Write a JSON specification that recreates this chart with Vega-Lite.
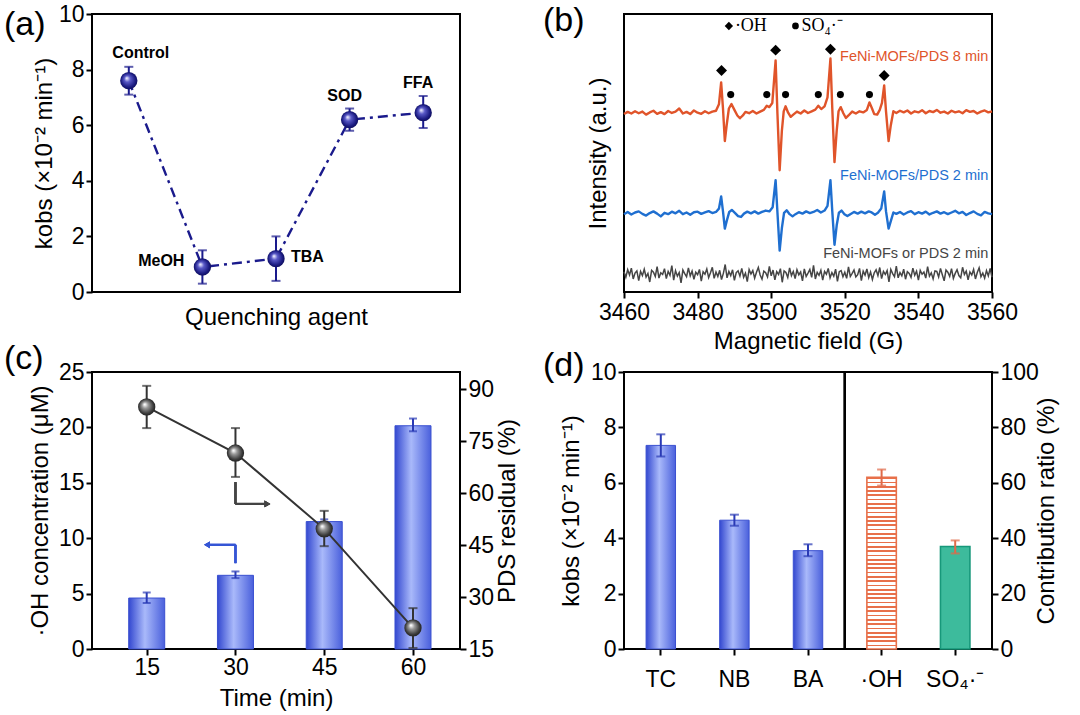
{
"$schema": "https://vega.github.io/schema/vega-lite/v6.json",
"background": "white",
"padding": {"left": 3, "top": 2, "right": 0, "bottom": 0},
"columns": 2,
"spacing": {"row": 80, "column": 164},
"bounds": "flush",
"datasets": {
"a": [
{"agent":"Control","k":7.6,"lo":7.1,"hi":8.1},
{"agent":"MeOH","k":0.9,"lo":0.3,"hi":1.5},
{"agent":"TBA","k":1.2,"lo":0.4,"hi":2.0},
{"agent":"SOD","k":6.2,"lo":5.8,"hi":6.6},
{"agent":"FFA","k":6.45,"lo":5.9,"hi":7.05}
],
"esr": [
{"B":3460,"I":64.0,"run":"8min"},{"B":3461,"I":64.8,"run":"8min"},{"B":3462,"I":64.2,"run":"8min"},{"B":3463,"I":65.0,"run":"8min"},{"B":3464,"I":64.3,"run":"8min"},{"B":3465,"I":64.9,"run":"8min"},{"B":3466,"I":63.8,"run":"8min"},{"B":3467,"I":64.6,"run":"8min"},{"B":3468,"I":65.2,"run":"8min"},{"B":3469,"I":64.1,"run":"8min"},
{"B":3470,"I":64.7,"run":"8min"},{"B":3471,"I":64.0,"run":"8min"},{"B":3472,"I":65.1,"run":"8min"},{"B":3473,"I":64.4,"run":"8min"},{"B":3474,"I":64.9,"run":"8min"},{"B":3475,"I":66.0,"run":"8min"},{"B":3476,"I":64.2,"run":"8min"},{"B":3477,"I":64.8,"run":"8min"},{"B":3478,"I":64.0,"run":"8min"},{"B":3479,"I":65.3,"run":"8min"},
{"B":3480,"I":64.5,"run":"8min"},{"B":3481,"I":64.1,"run":"8min"},{"B":3482,"I":65.0,"run":"8min"},{"B":3483,"I":64.3,"run":"8min"},{"B":3484,"I":64.9,"run":"8min"},{"B":3485,"I":65.2,"run":"8min"},{"B":3485.8,"I":67.5,"run":"8min"},{"B":3486.4,"I":75.4,"run":"8min"},{"B":3486.9,"I":66,"run":"8min"},{"B":3487.4,"I":54.3,"run":"8min"},
{"B":3487.9,"I":60,"run":"8min"},{"B":3488.5,"I":66,"run":"8min"},{"B":3489.2,"I":67.6,"run":"8min"},{"B":3490,"I":65.5,"run":"8min"},{"B":3490.8,"I":63.5,"run":"8min"},{"B":3491.5,"I":62.5,"run":"8min"},{"B":3492.3,"I":63.5,"run":"8min"},{"B":3493,"I":64.8,"run":"8min"},{"B":3494,"I":64.3,"run":"8min"},{"B":3495,"I":65.1,"run":"8min"},
{"B":3496,"I":64.2,"run":"8min"},{"B":3497,"I":64.9,"run":"8min"},{"B":3498,"I":65.5,"run":"8min"},{"B":3498.8,"I":67.0,"run":"8min"},{"B":3499.5,"I":66.5,"run":"8min"},{"B":3500.3,"I":68,"run":"8min"},{"B":3501.2,"I":83.3,"run":"8min"},{"B":3501.7,"I":64,"run":"8min"},{"B":3502.3,"I":43.8,"run":"8min"},{"B":3502.9,"I":58,"run":"8min"},
{"B":3503.4,"I":65,"run":"8min"},{"B":3503.9,"I":66.8,"run":"8min"},{"B":3504.6,"I":64.5,"run":"8min"},{"B":3505.3,"I":63.0,"run":"8min"},{"B":3506,"I":63.8,"run":"8min"},{"B":3507,"I":64.9,"run":"8min"},{"B":3508,"I":64.2,"run":"8min"},{"B":3509,"I":65.3,"run":"8min"},{"B":3510,"I":64.4,"run":"8min"},{"B":3511,"I":65.0,"run":"8min"},
{"B":3512,"I":65.6,"run":"8min"},{"B":3512.8,"I":67.0,"run":"8min"},{"B":3513.6,"I":65.8,"run":"8min"},{"B":3514.5,"I":66.8,"run":"8min"},{"B":3515.3,"I":70,"run":"8min"},{"B":3516.1,"I":84.0,"run":"8min"},{"B":3516.6,"I":66,"run":"8min"},{"B":3517.2,"I":46.7,"run":"8min"},{"B":3517.8,"I":58,"run":"8min"},{"B":3518.3,"I":65,"run":"8min"},
{"B":3518.9,"I":66.5,"run":"8min"},{"B":3519.6,"I":64.3,"run":"8min"},{"B":3520.3,"I":62.6,"run":"8min"},{"B":3521,"I":63.5,"run":"8min"},{"B":3522,"I":64.9,"run":"8min"},{"B":3523,"I":64.2,"run":"8min"},{"B":3524,"I":65.0,"run":"8min"},{"B":3525,"I":64.6,"run":"8min"},{"B":3526,"I":65.5,"run":"8min"},{"B":3526.7,"I":68.2,"run":"8min"},
{"B":3527.4,"I":66,"run":"8min"},{"B":3528,"I":64,"run":"8min"},{"B":3528.8,"I":63.8,"run":"8min"},{"B":3529.5,"I":65.5,"run":"8min"},{"B":3530.1,"I":68,"run":"8min"},{"B":3530.7,"I":74.3,"run":"8min"},{"B":3531.2,"I":65,"run":"8min"},{"B":3531.9,"I":54.3,"run":"8min"},{"B":3532.5,"I":60,"run":"8min"},{"B":3533.2,"I":65,"run":"8min"},
{"B":3534,"I":64.4,"run":"8min"},{"B":3535,"I":65.2,"run":"8min"},{"B":3536,"I":64.6,"run":"8min"},{"B":3537,"I":65.3,"run":"8min"},{"B":3538,"I":64.2,"run":"8min"},{"B":3539,"I":65.0,"run":"8min"},{"B":3540,"I":64.6,"run":"8min"},{"B":3541,"I":65.4,"run":"8min"},{"B":3542,"I":64.3,"run":"8min"},{"B":3543,"I":65.1,"run":"8min"},
{"B":3544,"I":64.7,"run":"8min"},{"B":3545,"I":65.5,"run":"8min"},{"B":3546,"I":64.5,"run":"8min"},{"B":3547,"I":64.9,"run":"8min"},{"B":3548,"I":64.2,"run":"8min"},{"B":3549,"I":65.2,"run":"8min"},{"B":3550,"I":64.6,"run":"8min"},{"B":3551,"I":65.0,"run":"8min"},{"B":3552,"I":64.3,"run":"8min"},{"B":3553,"I":65.4,"run":"8min"},
{"B":3554,"I":64.8,"run":"8min"},{"B":3555,"I":65.1,"run":"8min"},{"B":3556,"I":64.2,"run":"8min"},{"B":3557,"I":64.9,"run":"8min"},{"B":3558,"I":65.3,"run":"8min"},{"B":3559,"I":64.6,"run":"8min"},{"B":3560,"I":65.0,"run":"8min"},
{"B":3460,"I":28.0,"run":"2min"},{"B":3461,"I":28.8,"run":"2min"},{"B":3462,"I":27.9,"run":"2min"},{"B":3463,"I":28.6,"run":"2min"},{"B":3464,"I":29.0,"run":"2min"},{"B":3465,"I":28.1,"run":"2min"},{"B":3466,"I":27.5,"run":"2min"},{"B":3467,"I":28.4,"run":"2min"},{"B":3468,"I":29.0,"run":"2min"},{"B":3469,"I":28.2,"run":"2min"},
{"B":3470,"I":27.2,"run":"2min"},{"B":3471,"I":28.5,"run":"2min"},{"B":3472,"I":28.0,"run":"2min"},{"B":3473,"I":28.9,"run":"2min"},{"B":3474,"I":28.3,"run":"2min"},{"B":3475,"I":29.2,"run":"2min"},{"B":3476,"I":28.0,"run":"2min"},{"B":3477,"I":28.6,"run":"2min"},{"B":3478,"I":27.8,"run":"2min"},{"B":3479,"I":28.7,"run":"2min"},
{"B":3480,"I":28.9,"run":"2min"},{"B":3481,"I":28.1,"run":"2min"},{"B":3482,"I":28.6,"run":"2min"},{"B":3483,"I":29.1,"run":"2min"},{"B":3484,"I":28.4,"run":"2min"},{"B":3485,"I":28.8,"run":"2min"},{"B":3485.8,"I":30.0,"run":"2min"},{"B":3486.4,"I":34.4,"run":"2min"},{"B":3486.9,"I":29,"run":"2min"},{"B":3487.4,"I":22.8,"run":"2min"},
{"B":3487.9,"I":25.5,"run":"2min"},{"B":3488.6,"I":28.8,"run":"2min"},{"B":3489.3,"I":29.5,"run":"2min"},{"B":3490.2,"I":28.4,"run":"2min"},{"B":3491,"I":27.3,"run":"2min"},{"B":3491.8,"I":27.0,"run":"2min"},{"B":3492.6,"I":28.2,"run":"2min"},{"B":3493.5,"I":28.9,"run":"2min"},{"B":3494.5,"I":28.3,"run":"2min"},{"B":3495.5,"I":29.0,"run":"2min"},
{"B":3496.5,"I":28.2,"run":"2min"},{"B":3497.5,"I":28.8,"run":"2min"},{"B":3498.5,"I":29.3,"run":"2min"},{"B":3499.5,"I":29.0,"run":"2min"},{"B":3500.4,"I":30.5,"run":"2min"},{"B":3501.2,"I":40.2,"run":"2min"},{"B":3501.7,"I":28.5,"run":"2min"},{"B":3502.3,"I":14.9,"run":"2min"},{"B":3502.9,"I":23,"run":"2min"},{"B":3503.5,"I":28.5,"run":"2min"},
{"B":3504.2,"I":29.4,"run":"2min"},{"B":3505,"I":28.0,"run":"2min"},{"B":3505.8,"I":27.2,"run":"2min"},{"B":3506.6,"I":28.0,"run":"2min"},{"B":3507.5,"I":28.7,"run":"2min"},{"B":3508.5,"I":28.2,"run":"2min"},{"B":3509.5,"I":29.0,"run":"2min"},{"B":3510.5,"I":28.4,"run":"2min"},{"B":3511.5,"I":28.8,"run":"2min"},{"B":3512.5,"I":29.5,"run":"2min"},
{"B":3513.5,"I":28.6,"run":"2min"},{"B":3514.5,"I":29.3,"run":"2min"},{"B":3515.3,"I":31,"run":"2min"},{"B":3516.1,"I":40.2,"run":"2min"},{"B":3516.6,"I":29,"run":"2min"},{"B":3517.2,"I":17.0,"run":"2min"},{"B":3517.8,"I":24,"run":"2min"},{"B":3518.4,"I":28.5,"run":"2min"},{"B":3519.1,"I":29.3,"run":"2min"},{"B":3519.9,"I":28.0,"run":"2min"},
{"B":3520.7,"I":27.3,"run":"2min"},{"B":3521.5,"I":28.0,"run":"2min"},{"B":3522.5,"I":28.8,"run":"2min"},{"B":3523.5,"I":28.2,"run":"2min"},{"B":3524.5,"I":28.9,"run":"2min"},{"B":3525.5,"I":28.3,"run":"2min"},{"B":3526.5,"I":29.0,"run":"2min"},{"B":3527.3,"I":28.6,"run":"2min"},{"B":3528.2,"I":27.8,"run":"2min"},{"B":3529,"I":28.5,"run":"2min"},
{"B":3529.9,"I":30,"run":"2min"},{"B":3530.7,"I":36.2,"run":"2min"},{"B":3531.2,"I":29,"run":"2min"},{"B":3531.9,"I":22.8,"run":"2min"},{"B":3532.5,"I":25.5,"run":"2min"},{"B":3533.2,"I":28.6,"run":"2min"},{"B":3534,"I":28.1,"run":"2min"},{"B":3535,"I":28.8,"run":"2min"},{"B":3536,"I":27.9,"run":"2min"},{"B":3537,"I":28.6,"run":"2min"},
{"B":3538,"I":29.1,"run":"2min"},{"B":3539,"I":28.0,"run":"2min"},{"B":3540,"I":28.7,"run":"2min"},{"B":3541,"I":28.2,"run":"2min"},{"B":3542,"I":28.9,"run":"2min"},{"B":3543,"I":27.9,"run":"2min"},{"B":3544,"I":28.5,"run":"2min"},{"B":3545,"I":29.0,"run":"2min"},{"B":3546,"I":28.2,"run":"2min"},{"B":3547,"I":28.7,"run":"2min"},
{"B":3548,"I":28.0,"run":"2min"},{"B":3549,"I":28.6,"run":"2min"},{"B":3550,"I":29.2,"run":"2min"},{"B":3551,"I":28.3,"run":"2min"},{"B":3552,"I":28.8,"run":"2min"},{"B":3553,"I":27.7,"run":"2min"},{"B":3554,"I":28.4,"run":"2min"},{"B":3555,"I":29.0,"run":"2min"},{"B":3556,"I":28.1,"run":"2min"},{"B":3557,"I":27.6,"run":"2min"},
{"B":3558,"I":28.8,"run":"2min"},{"B":3559,"I":28.3,"run":"2min"},{"B":3560,"I":28.0,"run":"2min"},
{"B":3460,"I":7.3,"run":"ctrl"},{"B":3460.5,"I":5.3,"run":"ctrl"},{"B":3461,"I":8.0,"run":"ctrl"},{"B":3461.5,"I":6.1,"run":"ctrl"},{"B":3462,"I":8.6,"run":"ctrl"},{"B":3462.5,"I":4.7,"run":"ctrl"},{"B":3463,"I":6.8,"run":"ctrl"},{"B":3463.5,"I":7.6,"run":"ctrl"},{"B":3464,"I":4.1,"run":"ctrl"},{"B":3464.5,"I":7.4,"run":"ctrl"},
{"B":3465,"I":5.9,"run":"ctrl"},{"B":3465.5,"I":8.2,"run":"ctrl"},{"B":3466,"I":5.4,"run":"ctrl"},{"B":3466.5,"I":6.7,"run":"ctrl"},{"B":3467,"I":3.6,"run":"ctrl"},{"B":3467.5,"I":7.8,"run":"ctrl"},{"B":3468,"I":7.1,"run":"ctrl"},{"B":3468.5,"I":5.6,"run":"ctrl"},{"B":3469,"I":9.1,"run":"ctrl"},{"B":3469.5,"I":5.0,"run":"ctrl"},
{"B":3470,"I":6.9,"run":"ctrl"},{"B":3470.5,"I":6.3,"run":"ctrl"},{"B":3471,"I":8.4,"run":"ctrl"},{"B":3471.5,"I":4.8,"run":"ctrl"},{"B":3472,"I":7.4,"run":"ctrl"},{"B":3472.5,"I":6.0,"run":"ctrl"},{"B":3473,"I":9.5,"run":"ctrl"},{"B":3473.5,"I":4.3,"run":"ctrl"},{"B":3474,"I":7.7,"run":"ctrl"},{"B":3474.5,"I":5.7,"run":"ctrl"},
{"B":3475,"I":7.0,"run":"ctrl"},{"B":3475.5,"I":3.3,"run":"ctrl"},{"B":3476,"I":7.9,"run":"ctrl"},{"B":3476.5,"I":6.6,"run":"ctrl"},{"B":3477,"I":5.5,"run":"ctrl"},{"B":3477.5,"I":8.7,"run":"ctrl"},{"B":3478,"I":5.8,"run":"ctrl"},{"B":3478.5,"I":7.5,"run":"ctrl"},{"B":3479,"I":4.6,"run":"ctrl"},{"B":3479.5,"I":7.1,"run":"ctrl"},
{"B":3480,"I":6.2,"run":"ctrl"},{"B":3480.5,"I":8.1,"run":"ctrl"},{"B":3481,"I":3.9,"run":"ctrl"},{"B":3481.5,"I":7.3,"run":"ctrl"},{"B":3482,"I":6.4,"run":"ctrl"},{"B":3482.5,"I":8.3,"run":"ctrl"},{"B":3483,"I":5.2,"run":"ctrl"},{"B":3483.5,"I":6.9,"run":"ctrl"},{"B":3484,"I":8.9,"run":"ctrl"},{"B":3484.5,"I":4.9,"run":"ctrl"},
{"B":3485,"I":7.2,"run":"ctrl"},{"B":3485.5,"I":5.6,"run":"ctrl"},{"B":3486,"I":7.8,"run":"ctrl"},{"B":3486.5,"I":4.5,"run":"ctrl"},{"B":3487,"I":6.7,"run":"ctrl"},{"B":3487.5,"I":9.9,"run":"ctrl"},{"B":3488,"I":5.1,"run":"ctrl"},{"B":3488.5,"I":7.4,"run":"ctrl"},{"B":3489,"I":5.9,"run":"ctrl"},{"B":3489.5,"I":8.0,"run":"ctrl"},
{"B":3490,"I":4.2,"run":"ctrl"},{"B":3490.5,"I":7.0,"run":"ctrl"},{"B":3491,"I":7.6,"run":"ctrl"},{"B":3491.5,"I":5.7,"run":"ctrl"},{"B":3492,"I":8.5,"run":"ctrl"},{"B":3492.5,"I":5.3,"run":"ctrl"},{"B":3493,"I":6.8,"run":"ctrl"},{"B":3493.5,"I":3.7,"run":"ctrl"},{"B":3494,"I":8.1,"run":"ctrl"},{"B":3494.5,"I":6.5,"run":"ctrl"},
{"B":3495,"I":7.7,"run":"ctrl"},{"B":3495.5,"I":5.0,"run":"ctrl"},{"B":3496,"I":7.1,"run":"ctrl"},{"B":3496.5,"I":8.8,"run":"ctrl"},{"B":3497,"I":6.1,"run":"ctrl"},{"B":3497.5,"I":4.6,"run":"ctrl"},{"B":3498,"I":7.5,"run":"ctrl"},{"B":3498.5,"I":6.9,"run":"ctrl"},{"B":3499,"I":5.4,"run":"ctrl"},{"B":3499.5,"I":9.2,"run":"ctrl"},
{"B":3500,"I":5.8,"run":"ctrl"},{"B":3500.5,"I":7.9,"run":"ctrl"},{"B":3501,"I":4.4,"run":"ctrl"},{"B":3501.5,"I":7.3,"run":"ctrl"},{"B":3502,"I":6.3,"run":"ctrl"},{"B":3502.5,"I":8.4,"run":"ctrl"},{"B":3503,"I":3.5,"run":"ctrl"},{"B":3503.5,"I":7.6,"run":"ctrl"},{"B":3504,"I":7.0,"run":"ctrl"},{"B":3504.5,"I":5.2,"run":"ctrl"},
{"B":3505,"I":8.7,"run":"ctrl"},{"B":3505.5,"I":5.9,"run":"ctrl"},{"B":3506,"I":7.4,"run":"ctrl"},{"B":3506.5,"I":4.8,"run":"ctrl"},{"B":3507,"I":8.0,"run":"ctrl"},{"B":3507.5,"I":6.2,"run":"ctrl"},{"B":3508,"I":7.2,"run":"ctrl"},{"B":3508.5,"I":4.0,"run":"ctrl"},{"B":3509,"I":8.3,"run":"ctrl"},{"B":3509.5,"I":5.6,"run":"ctrl"},
{"B":3510,"I":6.8,"run":"ctrl"},{"B":3510.5,"I":8.1,"run":"ctrl"},{"B":3511,"I":5.3,"run":"ctrl"},{"B":3511.5,"I":9.6,"run":"ctrl"},{"B":3512,"I":4.7,"run":"ctrl"},{"B":3512.5,"I":7.1,"run":"ctrl"},{"B":3513,"I":6.0,"run":"ctrl"},{"B":3513.5,"I":7.8,"run":"ctrl"},{"B":3514,"I":4.3,"run":"ctrl"},{"B":3514.5,"I":7.4,"run":"ctrl"},
{"B":3515,"I":6.4,"run":"ctrl"},{"B":3515.5,"I":8.5,"run":"ctrl"},{"B":3516,"I":5.1,"run":"ctrl"},{"B":3516.5,"I":7.0,"run":"ctrl"},{"B":3517,"I":5.7,"run":"ctrl"},{"B":3517.5,"I":8.2,"run":"ctrl"},{"B":3518,"I":3.8,"run":"ctrl"},{"B":3518.5,"I":7.3,"run":"ctrl"},{"B":3519,"I":7.7,"run":"ctrl"},{"B":3519.5,"I":5.5,"run":"ctrl"},
{"B":3520,"I":7.1,"run":"ctrl"},{"B":3520.5,"I":4.9,"run":"ctrl"},{"B":3521,"I":9.0,"run":"ctrl"},{"B":3521.5,"I":5.6,"run":"ctrl"},{"B":3522,"I":6.7,"run":"ctrl"},{"B":3522.5,"I":7.9,"run":"ctrl"},{"B":3523,"I":5.4,"run":"ctrl"},{"B":3523.5,"I":6.2,"run":"ctrl"},{"B":3524,"I":8.5,"run":"ctrl"},{"B":3524.5,"I":4.1,"run":"ctrl"},
{"B":3525,"I":7.5,"run":"ctrl"},{"B":3525.5,"I":6.1,"run":"ctrl"},{"B":3526,"I":8.3,"run":"ctrl"},{"B":3526.5,"I":5.2,"run":"ctrl"},{"B":3527,"I":7.2,"run":"ctrl"},{"B":3527.5,"I":4.5,"run":"ctrl"},{"B":3528,"I":6.9,"run":"ctrl"},{"B":3528.5,"I":8.0,"run":"ctrl"},{"B":3529,"I":5.9,"run":"ctrl"},{"B":3529.5,"I":8.8,"run":"ctrl"},
{"B":3530,"I":4.8,"run":"ctrl"},{"B":3530.5,"I":7.4,"run":"ctrl"},{"B":3531,"I":6.3,"run":"ctrl"},{"B":3531.5,"I":7.7,"run":"ctrl"},{"B":3532,"I":3.6,"run":"ctrl"},{"B":3532.5,"I":8.1,"run":"ctrl"},{"B":3533,"I":6.6,"run":"ctrl"},{"B":3533.5,"I":5.5,"run":"ctrl"},{"B":3534,"I":9.3,"run":"ctrl"},{"B":3534.5,"I":5.1,"run":"ctrl"},
{"B":3535,"I":7.0,"run":"ctrl"},{"B":3535.5,"I":5.8,"run":"ctrl"},{"B":3536,"I":8.2,"run":"ctrl"},{"B":3536.5,"I":4.6,"run":"ctrl"},{"B":3537,"I":7.3,"run":"ctrl"},{"B":3537.5,"I":6.7,"run":"ctrl"},{"B":3538,"I":5.3,"run":"ctrl"},{"B":3538.5,"I":8.6,"run":"ctrl"},{"B":3539,"I":6.0,"run":"ctrl"},{"B":3539.5,"I":7.5,"run":"ctrl"},
{"B":3540,"I":4.3,"run":"ctrl"},{"B":3540.5,"I":7.8,"run":"ctrl"},{"B":3541,"I":6.4,"run":"ctrl"},{"B":3541.5,"I":7.2,"run":"ctrl"},{"B":3542,"I":5.0,"run":"ctrl"},{"B":3542.5,"I":9.1,"run":"ctrl"},{"B":3543,"I":5.7,"run":"ctrl"},{"B":3543.5,"I":6.9,"run":"ctrl"},{"B":3544,"I":4.7,"run":"ctrl"},{"B":3544.5,"I":7.6,"run":"ctrl"},
{"B":3545,"I":7.4,"run":"ctrl"},{"B":3545.5,"I":5.4,"run":"ctrl"},{"B":3546,"I":8.5,"run":"ctrl"},{"B":3546.5,"I":6.2,"run":"ctrl"},{"B":3547,"I":4.0,"run":"ctrl"},{"B":3547.5,"I":7.9,"run":"ctrl"},{"B":3548,"I":7.1,"run":"ctrl"},{"B":3548.5,"I":5.6,"run":"ctrl"},{"B":3549,"I":8.4,"run":"ctrl"},{"B":3549.5,"I":4.9,"run":"ctrl"},
{"B":3550,"I":6.7,"run":"ctrl"},{"B":3550.5,"I":8.0,"run":"ctrl"},{"B":3551,"I":5.9,"run":"ctrl"},{"B":3551.5,"I":5.1,"run":"ctrl"},{"B":3552,"I":8.9,"run":"ctrl"},{"B":3552.5,"I":6.3,"run":"ctrl"},{"B":3553,"I":7.5,"run":"ctrl"},{"B":3553.5,"I":4.4,"run":"ctrl"},{"B":3554,"I":7.2,"run":"ctrl"},{"B":3554.5,"I":6.1,"run":"ctrl"},
{"B":3555,"I":8.1,"run":"ctrl"},{"B":3555.5,"I":4.7,"run":"ctrl"},{"B":3556,"I":7.0,"run":"ctrl"},{"B":3556.5,"I":8.7,"run":"ctrl"},{"B":3557,"I":5.5,"run":"ctrl"},{"B":3557.5,"I":6.8,"run":"ctrl"},{"B":3558,"I":5.0,"run":"ctrl"},{"B":3558.5,"I":7.7,"run":"ctrl"},{"B":3559,"I":5.8,"run":"ctrl"},{"B":3559.5,"I":8.5,"run":"ctrl"},
{"B":3560,"I":5.3,"run":"ctrl"}
],
"peaks": [
{"B":3486.5,"I":79.7,"kind":"OH"},{"B":3501.2,"I":87.0,"kind":"OH"},{"B":3516.1,"I":87.3,"kind":"OH"},{"B":3530.7,"I":77.9,"kind":"OH"},
{"B":3489.0,"I":71,"kind":"SO4"},{"B":3498.8,"I":71,"kind":"SO4"},{"B":3503.9,"I":71,"kind":"SO4"},{"B":3512.8,"I":71,"kind":"SO4"},{"B":3518.8,"I":71,"kind":"SO4"},{"B":3526.7,"I":71,"kind":"SO4"}
],
"legend": [
{"B":3488.5,"I":95.7,"kind":"OH","label":"·OH"},
{"B":3506.6,"I":95.7,"kind":"SO4","label":"SO₄·⁻"}
],
"esrlab": [
{"run":"8min","B":3559,"I":84.4,"label":"FeNi-MOFs/PDS 8 min"},
{"run":"2min","B":3559,"I":41.7,"label":"FeNi-MOFs/PDS 2 min"},
{"run":"ctrl","B":3559,"I":13.8,"label":"FeNi-MOFs or PDS 2 min"}
],
"c": [
{"t":15,"oh":4.6,"ohlo":4.15,"ohhi":5.1,"pds":84.9,"pdslo":78.8,"pdshi":91.0},
{"t":30,"oh":6.65,"ohlo":6.4,"ohhi":7.0,"pds":71.6,"pdslo":64.7,"pdshi":78.8},
{"t":45,"oh":11.5,"ohlo":11.3,"ohhi":11.7,"pds":49.7,"pdslo":44.7,"pdshi":54.9},
{"t":60,"oh":20.15,"ohlo":19.65,"ohhi":20.8,"pds":21.1,"pdslo":15.3,"pdshi":26.8}
],
"d": [
{"cat":"TC","k":7.35,"lo":6.95,"hi":7.75},
{"cat":"NB","k":4.65,"lo":4.45,"hi":4.85},
{"cat":"BA","k":3.55,"lo":3.35,"hi":3.78}
],
"dr": [
{"cat":"·OH","r":62,"lo":59,"hi":64.8},
{"cat":"SO₄·⁻","r":37,"lo":34.5,"hi":39.2}
]
},
"concat": [
{
"width": 368, "height": 278,
"title": {"text": "(a)", "dx": -88, "offset": -39},
"data": {"name": "a"},
"encoding": {
"x": {"field": "agent", "type": "ordinal", "scale": {"type": "point", "padding": 0.5, "domain": ["Control","MeOH","TBA","SOD","FFA"]}, "axis": {"title": "Quenching agent", "labels": false, "ticks": false, "titlePadding": 13}}
},
"layer": [
{"mark": {"type": "line", "color": "#1a1a8c", "strokeWidth": 2.4, "strokeDash": [10,5,3,5]},
 "encoding": {"y": {"field": "k", "type": "quantitative", "scale": {"domain": [0,10], "nice": false}, "title": "kobs (×10⁻² min⁻¹)", "axis": {"values": [0,2,4,6,8,10], "titlePadding": 2}}}},
{"mark": {"type": "rule", "color": "#1a1a8c", "strokeWidth": 2},
 "encoding": {"y": {"field": "lo", "type": "quantitative", "title": "kobs (×10⁻² min⁻¹)"}, "y2": {"field": "hi"}}},
{"mark": {"type": "tick", "orient": "horizontal", "size": 9, "thickness": 2, "color": "#1a1a8c"},
 "encoding": {"y": {"field": "lo", "type": "quantitative", "title": "kobs (×10⁻² min⁻¹)"}}},
{"mark": {"type": "tick", "orient": "horizontal", "size": 9, "thickness": 2, "color": "#1a1a8c"},
 "encoding": {"y": {"field": "hi", "type": "quantitative", "title": "kobs (×10⁻² min⁻¹)"}}},
{"mark": {"type": "point", "filled": true, "opacity": 1, "size": 300, "shape": "circle",
  "color": {"gradient": "radial", "x1": 0.38, "y1": 0.35, "r1": 0.02, "x2": 0.5, "y2": 0.5, "r2": 0.55,
   "stops": [{"offset": 0, "color": "#eeeeff"}, {"offset": 0.3, "color": "#5a5ac8"}, {"offset": 0.75, "color": "#1a1a80"}, {"offset": 1, "color": "#0a0a50"}]}},
 "encoding": {"y": {"field": "k", "type": "quantitative", "title": "kobs (×10⁻² min⁻¹)"}}},
{"transform": [{"filter": "datum.agent === 'Control'"}],
 "mark": {"type": "text", "fontWeight": "bold", "fontSize": 16, "baseline": "bottom", "dx": 12, "dy": -6},
 "encoding": {"y": {"field": "hi", "type": "quantitative", "title": "kobs (×10⁻² min⁻¹)"}, "text": {"field": "agent"}}},
{"transform": [{"filter": "datum.agent === 'SOD' || datum.agent === 'FFA'"}],
 "mark": {"type": "text", "fontWeight": "bold", "fontSize": 16, "baseline": "bottom", "dx": -5, "dy": -5},
 "encoding": {"y": {"field": "hi", "type": "quantitative", "title": "kobs (×10⁻² min⁻¹)"}, "text": {"field": "agent"}}},
{"transform": [{"filter": "datum.agent === 'MeOH'"}],
 "mark": {"type": "text", "fontWeight": "bold", "fontSize": 16, "baseline": "middle", "align": "right", "dx": -18, "dy": -6},
 "encoding": {"y": {"field": "k", "type": "quantitative", "title": "kobs (×10⁻² min⁻¹)"}, "text": {"field": "agent"}}},
{"transform": [{"filter": "datum.agent === 'TBA'"}],
 "mark": {"type": "text", "fontWeight": "bold", "fontSize": 16, "baseline": "middle", "align": "left", "dx": 15, "dy": -2},
 "encoding": {"y": {"field": "k", "type": "quantitative", "title": "kobs (×10⁻² min⁻¹)"}, "text": {"field": "agent"}}}
]
},
{
"width": 368, "height": 278,
"title": {"text": "(b)", "dx": -81, "offset": -24},
"encoding": {
"x": {"field": "B", "type": "quantitative", "scale": {"domain": [3460,3560], "nice": false}, "title": "Magnetic field (G)", "axis": {"values": [3460,3480,3500,3520,3540,3560], "format": "d", "labelPadding": 3, "titlePadding": 5}},
"y": {"field": "I", "type": "quantitative", "scale": {"domain": [0,100], "nice": false}, "title": "Intensity (a.u.)", "axis": {"labels": false, "ticks": false, "titlePadding": 14}}
},
"layer": [
{"data": {"name": "esr"}, "transform": [{"filter": "datum.run !== 'ctrl'"}],
 "mark": {"type": "line", "strokeWidth": 2.4, "strokeJoin": "round"},
 "encoding": {"color": {"field": "run", "type": "nominal", "scale": {"domain": ["8min","2min","ctrl"], "range": ["#e0542a","#1f6fd0","#454545"]}, "legend": null}}},
{"data": {"name": "esr"}, "transform": [{"filter": "datum.run === 'ctrl'"}],
 "mark": {"type": "line", "strokeWidth": 1.5},
 "encoding": {"color": {"field": "run", "type": "nominal", "legend": null}}},
{"data": {"name": "peaks"}, "transform": [{"filter": "datum.kind === 'OH'"}],
 "mark": {"type": "point", "shape": "diamond", "filled": true, "opacity": 1, "color": "black", "size": 120}},
{"data": {"name": "peaks"}, "transform": [{"filter": "datum.kind === 'SO4'"}],
 "mark": {"type": "point", "shape": "circle", "filled": true, "opacity": 1, "color": "black", "size": 50}},
{"data": {"name": "legend"}, "transform": [{"filter": "datum.kind === 'OH'"}],
 "mark": {"type": "point", "shape": "diamond", "filled": true, "opacity": 1, "color": "black", "size": 70}},
{"data": {"name": "legend"}, "transform": [{"filter": "datum.kind === 'SO4'"}],
 "mark": {"type": "point", "shape": "circle", "filled": true, "opacity": 1, "color": "black", "size": 45}},
{"data": {"name": "legend"},
 "mark": {"type": "text", "font": "Liberation Serif", "fontSize": 18, "align": "left", "baseline": "middle", "dx": 6},
 "encoding": {"text": {"field": "label"}}},
{"data": {"name": "esrlab"},
 "mark": {"type": "text", "fontSize": 14.5, "align": "right", "baseline": "middle"},
 "encoding": {"text": {"field": "label"}, "color": {"field": "run", "type": "nominal", "legend": null}}}
]
},
{
"width": 368, "height": 277,
"title": {"text": "(c)", "dx": -88, "offset": -15},
"data": {"name": "c"},
"encoding": {
"x": {"field": "t", "type": "quantitative", "scale": {"domain": [6.6,67.1], "nice": false}, "title": "Time (min)", "axis": {"values": [15,30,45,60], "labelPadding": 1, "titlePadding": 7}}
},
"layer": [
{"layer": [
 {"mark": {"type": "bar", "orient": "vertical", "size": 36, "stroke": "#3a50d0", "strokeWidth": 1,
   "color": {"gradient": "linear", "x1": 0, "y1": 0, "x2": 1, "y2": 0, "stops": [{"offset": 0, "color": "#3348d0"}, {"offset": 0.45, "color": "#a9b9fa"}, {"offset": 1, "color": "#4a60dc"}]}},
  "encoding": {"y": {"field": "oh", "type": "quantitative", "scale": {"domain": [0,25], "nice": false}, "title": "·OH concentration (μM)", "axis": {"values": [0,5,10,15,20,25], "titlePadding": 6}}}},
 {"mark": {"type": "rule", "color": "#2a3ab5", "strokeWidth": 2},
  "encoding": {"y": {"field": "ohlo", "type": "quantitative", "title": "·OH concentration (μM)"}, "y2": {"field": "ohhi"}}},
 {"mark": {"type": "tick", "orient": "horizontal", "size": 8, "thickness": 2, "color": "#2a3ab5"},
  "encoding": {"y": {"field": "ohlo", "type": "quantitative", "title": "·OH concentration (μM)"}}},
 {"mark": {"type": "tick", "orient": "horizontal", "size": 8, "thickness": 2, "color": "#2a3ab5"},
  "encoding": {"y": {"field": "ohhi", "type": "quantitative", "title": "·OH concentration (μM)"}}},
 {"mark": {"type": "rule", "color": "#3555d5", "strokeWidth": 2},
  "encoding": {"x": {"datum": 30}, "y": {"datum": 7.75}, "y2": {"datum": 9.4}}},
 {"mark": {"type": "rule", "color": "#3555d5", "strokeWidth": 2},
  "encoding": {"x": {"datum": 30}, "x2": {"datum": 25.6}, "y": {"datum": 9.4}}},
 {"mark": {"type": "point", "shape": "triangle-left", "filled": true, "opacity": 1, "color": "#3555d5", "size": 45},
  "encoding": {"x": {"datum": 25.2}, "y": {"datum": 9.4}}}
]},
{"layer": [
 {"mark": {"type": "line", "color": "#333333", "strokeWidth": 2},
  "encoding": {"y": {"field": "pds", "type": "quantitative", "scale": {"domain": [15,95], "nice": false}, "title": "PDS residual (%)", "axis": {"orient": "right", "values": [15,30,45,60,75,90], "titlePadding": 2, "titleAngle": 270, "titleBaseline": "top"}}}},
 {"mark": {"type": "rule", "color": "#333333", "strokeWidth": 2},
  "encoding": {"y": {"field": "pdslo", "type": "quantitative", "title": "PDS residual (%)"}, "y2": {"field": "pdshi"}}},
 {"mark": {"type": "tick", "orient": "horizontal", "size": 9, "thickness": 2, "color": "#333333"},
  "encoding": {"y": {"field": "pdslo", "type": "quantitative", "title": "PDS residual (%)"}}},
 {"mark": {"type": "tick", "orient": "horizontal", "size": 9, "thickness": 2, "color": "#333333"},
  "encoding": {"y": {"field": "pdshi", "type": "quantitative", "title": "PDS residual (%)"}}},
 {"mark": {"type": "point", "filled": true, "opacity": 1, "size": 300, "shape": "circle",
   "color": {"gradient": "radial", "x1": 0.38, "y1": 0.35, "r1": 0.02, "x2": 0.5, "y2": 0.5, "r2": 0.55,
    "stops": [{"offset": 0, "color": "#ffffff"}, {"offset": 0.3, "color": "#9a9a9a"}, {"offset": 0.75, "color": "#3a3a3a"}, {"offset": 1, "color": "#1a1a1a"}]}},
  "encoding": {"y": {"field": "pds", "type": "quantitative", "title": "PDS residual (%)"}}},
 {"mark": {"type": "rule", "color": "#444444", "strokeWidth": 2},
  "encoding": {"x": {"datum": 30}, "y": {"datum": 63.2}, "y2": {"datum": 56.9}}},
 {"mark": {"type": "rule", "color": "#444444", "strokeWidth": 2},
  "encoding": {"x": {"datum": 30}, "x2": {"datum": 35.0}, "y": {"datum": 56.9}}},
 {"mark": {"type": "point", "shape": "triangle-right", "filled": true, "opacity": 1, "color": "#444444", "size": 45},
  "encoding": {"x": {"datum": 35.4}, "y": {"datum": 56.9}}}
]}
],
"resolve": {"scale": {"y": "independent"}}
},
{
"width": 368, "height": 277,
"title": {"text": "(d)", "dx": -81, "offset": -22},
"encoding": {
"x": {"field": "cat", "type": "nominal", "scale": {"domain": ["TC","NB","BA","·OH","SO₄·⁻"], "paddingInner": 0.6, "paddingOuter": 0.3}, "title": null, "axis": {"labelAngle": 0, "labelPadding": 13}}
},
"layer": [
{"data": {"name": "d"}, "layer": [
 {"mark": {"type": "bar", "stroke": "#3a50d0", "strokeWidth": 1,
   "color": {"gradient": "linear", "x1": 0, "y1": 0, "x2": 1, "y2": 0, "stops": [{"offset": 0, "color": "#3348d0"}, {"offset": 0.45, "color": "#a9b9fa"}, {"offset": 1, "color": "#4a60dc"}]}},
  "encoding": {"y": {"field": "k", "type": "quantitative", "scale": {"domain": [0,10], "nice": false}, "title": "kobs (×10⁻² min⁻¹)", "axis": {"values": [0,2,4,6,8,10], "titlePadding": 7}}}},
 {"mark": {"type": "rule", "color": "#2a3ab5", "strokeWidth": 2},
  "encoding": {"y": {"field": "lo", "type": "quantitative", "title": "kobs (×10⁻² min⁻¹)"}, "y2": {"field": "hi"}}},
 {"mark": {"type": "tick", "orient": "horizontal", "size": 9, "thickness": 2, "color": "#2a3ab5"},
  "encoding": {"y": {"field": "lo", "type": "quantitative", "title": "kobs (×10⁻² min⁻¹)"}}},
 {"mark": {"type": "tick", "orient": "horizontal", "size": 9, "thickness": 2, "color": "#2a3ab5"},
  "encoding": {"y": {"field": "hi", "type": "quantitative", "title": "kobs (×10⁻² min⁻¹)"}}},
 {"mark": {"type": "rule", "color": "black", "strokeWidth": 2.2},
  "encoding": {"x": {"datum": "BA", "bandPosition": 1.75}, "y": {"datum": 0}, "y2": {"datum": 10}}}
]},
{"data": {"name": "dr"}, "layer": [
 {"transform": [{"filter": "datum.cat === '·OH'"}],
  "mark": {"type": "bar", "stroke": "#e8704a", "strokeWidth": 1.6,
   "fill": {"gradient": "linear", "x1": 0, "y1": 0, "x2": 0, "y2": 1, "stops": [
    {"offset":0,"color":"#e8704a"},{"offset":0.01,"color":"#e8704a"},{"offset":0.01,"color":"#ffffff"},{"offset":0.025,"color":"#ffffff"},
    {"offset":0.025,"color":"#e8704a"},{"offset":0.035,"color":"#e8704a"},{"offset":0.035,"color":"#ffffff"},{"offset":0.05,"color":"#ffffff"},
    {"offset":0.05,"color":"#e8704a"},{"offset":0.06,"color":"#e8704a"},{"offset":0.06,"color":"#ffffff"},{"offset":0.075,"color":"#ffffff"},
    {"offset":0.075,"color":"#e8704a"},{"offset":0.085,"color":"#e8704a"},{"offset":0.085,"color":"#ffffff"},{"offset":0.1,"color":"#ffffff"},
    {"offset":0.1,"color":"#e8704a"},{"offset":0.11,"color":"#e8704a"},{"offset":0.11,"color":"#ffffff"},{"offset":0.125,"color":"#ffffff"},
    {"offset":0.125,"color":"#e8704a"},{"offset":0.135,"color":"#e8704a"},{"offset":0.135,"color":"#ffffff"},{"offset":0.15,"color":"#ffffff"},
    {"offset":0.15,"color":"#e8704a"},{"offset":0.16,"color":"#e8704a"},{"offset":0.16,"color":"#ffffff"},{"offset":0.175,"color":"#ffffff"},
    {"offset":0.175,"color":"#e8704a"},{"offset":0.185,"color":"#e8704a"},{"offset":0.185,"color":"#ffffff"},{"offset":0.2,"color":"#ffffff"},
    {"offset":0.2,"color":"#e8704a"},{"offset":0.21,"color":"#e8704a"},{"offset":0.21,"color":"#ffffff"},{"offset":0.225,"color":"#ffffff"},
    {"offset":0.225,"color":"#e8704a"},{"offset":0.235,"color":"#e8704a"},{"offset":0.235,"color":"#ffffff"},{"offset":0.25,"color":"#ffffff"},
    {"offset":0.25,"color":"#e8704a"},{"offset":0.26,"color":"#e8704a"},{"offset":0.26,"color":"#ffffff"},{"offset":0.275,"color":"#ffffff"},
    {"offset":0.275,"color":"#e8704a"},{"offset":0.285,"color":"#e8704a"},{"offset":0.285,"color":"#ffffff"},{"offset":0.3,"color":"#ffffff"},
    {"offset":0.3,"color":"#e8704a"},{"offset":0.31,"color":"#e8704a"},{"offset":0.31,"color":"#ffffff"},{"offset":0.325,"color":"#ffffff"},
    {"offset":0.325,"color":"#e8704a"},{"offset":0.335,"color":"#e8704a"},{"offset":0.335,"color":"#ffffff"},{"offset":0.35,"color":"#ffffff"},
    {"offset":0.35,"color":"#e8704a"},{"offset":0.36,"color":"#e8704a"},{"offset":0.36,"color":"#ffffff"},{"offset":0.375,"color":"#ffffff"},
    {"offset":0.375,"color":"#e8704a"},{"offset":0.385,"color":"#e8704a"},{"offset":0.385,"color":"#ffffff"},{"offset":0.4,"color":"#ffffff"},
    {"offset":0.4,"color":"#e8704a"},{"offset":0.41,"color":"#e8704a"},{"offset":0.41,"color":"#ffffff"},{"offset":0.425,"color":"#ffffff"},
    {"offset":0.425,"color":"#e8704a"},{"offset":0.435,"color":"#e8704a"},{"offset":0.435,"color":"#ffffff"},{"offset":0.45,"color":"#ffffff"},
    {"offset":0.45,"color":"#e8704a"},{"offset":0.46,"color":"#e8704a"},{"offset":0.46,"color":"#ffffff"},{"offset":0.475,"color":"#ffffff"},
    {"offset":0.475,"color":"#e8704a"},{"offset":0.485,"color":"#e8704a"},{"offset":0.485,"color":"#ffffff"},{"offset":0.5,"color":"#ffffff"},
    {"offset":0.5,"color":"#e8704a"},{"offset":0.51,"color":"#e8704a"},{"offset":0.51,"color":"#ffffff"},{"offset":0.525,"color":"#ffffff"},
    {"offset":0.525,"color":"#e8704a"},{"offset":0.535,"color":"#e8704a"},{"offset":0.535,"color":"#ffffff"},{"offset":0.55,"color":"#ffffff"},
    {"offset":0.55,"color":"#e8704a"},{"offset":0.56,"color":"#e8704a"},{"offset":0.56,"color":"#ffffff"},{"offset":0.575,"color":"#ffffff"},
    {"offset":0.575,"color":"#e8704a"},{"offset":0.585,"color":"#e8704a"},{"offset":0.585,"color":"#ffffff"},{"offset":0.6,"color":"#ffffff"},
    {"offset":0.6,"color":"#e8704a"},{"offset":0.61,"color":"#e8704a"},{"offset":0.61,"color":"#ffffff"},{"offset":0.625,"color":"#ffffff"},
    {"offset":0.625,"color":"#e8704a"},{"offset":0.635,"color":"#e8704a"},{"offset":0.635,"color":"#ffffff"},{"offset":0.65,"color":"#ffffff"},
    {"offset":0.65,"color":"#e8704a"},{"offset":0.66,"color":"#e8704a"},{"offset":0.66,"color":"#ffffff"},{"offset":0.675,"color":"#ffffff"},
    {"offset":0.675,"color":"#e8704a"},{"offset":0.685,"color":"#e8704a"},{"offset":0.685,"color":"#ffffff"},{"offset":0.7,"color":"#ffffff"},
    {"offset":0.7,"color":"#e8704a"},{"offset":0.71,"color":"#e8704a"},{"offset":0.71,"color":"#ffffff"},{"offset":0.725,"color":"#ffffff"},
    {"offset":0.725,"color":"#e8704a"},{"offset":0.735,"color":"#e8704a"},{"offset":0.735,"color":"#ffffff"},{"offset":0.75,"color":"#ffffff"},
    {"offset":0.75,"color":"#e8704a"},{"offset":0.76,"color":"#e8704a"},{"offset":0.76,"color":"#ffffff"},{"offset":0.775,"color":"#ffffff"},
    {"offset":0.775,"color":"#e8704a"},{"offset":0.785,"color":"#e8704a"},{"offset":0.785,"color":"#ffffff"},{"offset":0.8,"color":"#ffffff"},
    {"offset":0.8,"color":"#e8704a"},{"offset":0.81,"color":"#e8704a"},{"offset":0.81,"color":"#ffffff"},{"offset":0.825,"color":"#ffffff"},
    {"offset":0.825,"color":"#e8704a"},{"offset":0.835,"color":"#e8704a"},{"offset":0.835,"color":"#ffffff"},{"offset":0.85,"color":"#ffffff"},
    {"offset":0.85,"color":"#e8704a"},{"offset":0.86,"color":"#e8704a"},{"offset":0.86,"color":"#ffffff"},{"offset":0.875,"color":"#ffffff"},
    {"offset":0.875,"color":"#e8704a"},{"offset":0.885,"color":"#e8704a"},{"offset":0.885,"color":"#ffffff"},{"offset":0.9,"color":"#ffffff"},
    {"offset":0.9,"color":"#e8704a"},{"offset":0.91,"color":"#e8704a"},{"offset":0.91,"color":"#ffffff"},{"offset":0.925,"color":"#ffffff"},
    {"offset":0.925,"color":"#e8704a"},{"offset":0.935,"color":"#e8704a"},{"offset":0.935,"color":"#ffffff"},{"offset":0.95,"color":"#ffffff"},
    {"offset":0.95,"color":"#e8704a"},{"offset":0.96,"color":"#e8704a"},{"offset":0.96,"color":"#ffffff"},{"offset":0.975,"color":"#ffffff"},
    {"offset":0.975,"color":"#e8704a"},{"offset":0.985,"color":"#e8704a"},{"offset":0.985,"color":"#ffffff"},{"offset":1,"color":"#ffffff"}
   ]}},
  "encoding": {"y": {"field": "r", "type": "quantitative", "scale": {"domain": [0,100], "nice": false}, "title": "Contribution ratio (%)", "axis": {"orient": "right", "values": [0,20,40,60,80,100], "titlePadding": -4, "titleAngle": 270, "titleBaseline": "top"}}}},
 {"transform": [{"filter": "datum.cat !== '·OH'"}],
  "mark": {"type": "bar", "fill": "#3dbb9c", "stroke": "#17987a", "strokeWidth": 1.6},
  "encoding": {"y": {"field": "r", "type": "quantitative", "title": "Contribution ratio (%)"}}},
 {"mark": {"type": "rule", "color": "#e06a48", "strokeWidth": 2},
  "encoding": {"y": {"field": "lo", "type": "quantitative", "title": "Contribution ratio (%)"}, "y2": {"field": "hi"}}},
 {"mark": {"type": "tick", "orient": "horizontal", "size": 9, "thickness": 2, "color": "#e06a48"},
  "encoding": {"y": {"field": "lo", "type": "quantitative", "title": "Contribution ratio (%)"}}},
 {"mark": {"type": "tick", "orient": "horizontal", "size": 9, "thickness": 2, "color": "#e06a48"},
  "encoding": {"y": {"field": "hi", "type": "quantitative", "title": "Contribution ratio (%)"}}}
]}
],
"resolve": {"scale": {"y": "independent"}}
}
],
"config": {
"font": "Liberation Sans",
"view": {"stroke": "black", "strokeWidth": 2},
"axis": {"domain": false, "grid": false, "labelFont": "Liberation Sans", "titleFont": "Liberation Sans", "labelFontSize": 23, "titleFontSize": 24, "titleFontWeight": "normal", "labelColor": "black", "titleColor": "black", "tickColor": "black", "tickWidth": 2, "tickSize": 6, "labelPadding": 2, "labelFlush": false, "labelOverlap": false},
"title": {"fontSize": 34, "fontWeight": "normal", "anchor": "start", "frame": "group", "baseline": "middle", "font": "Liberation Sans", "color": "black"}
}
}
